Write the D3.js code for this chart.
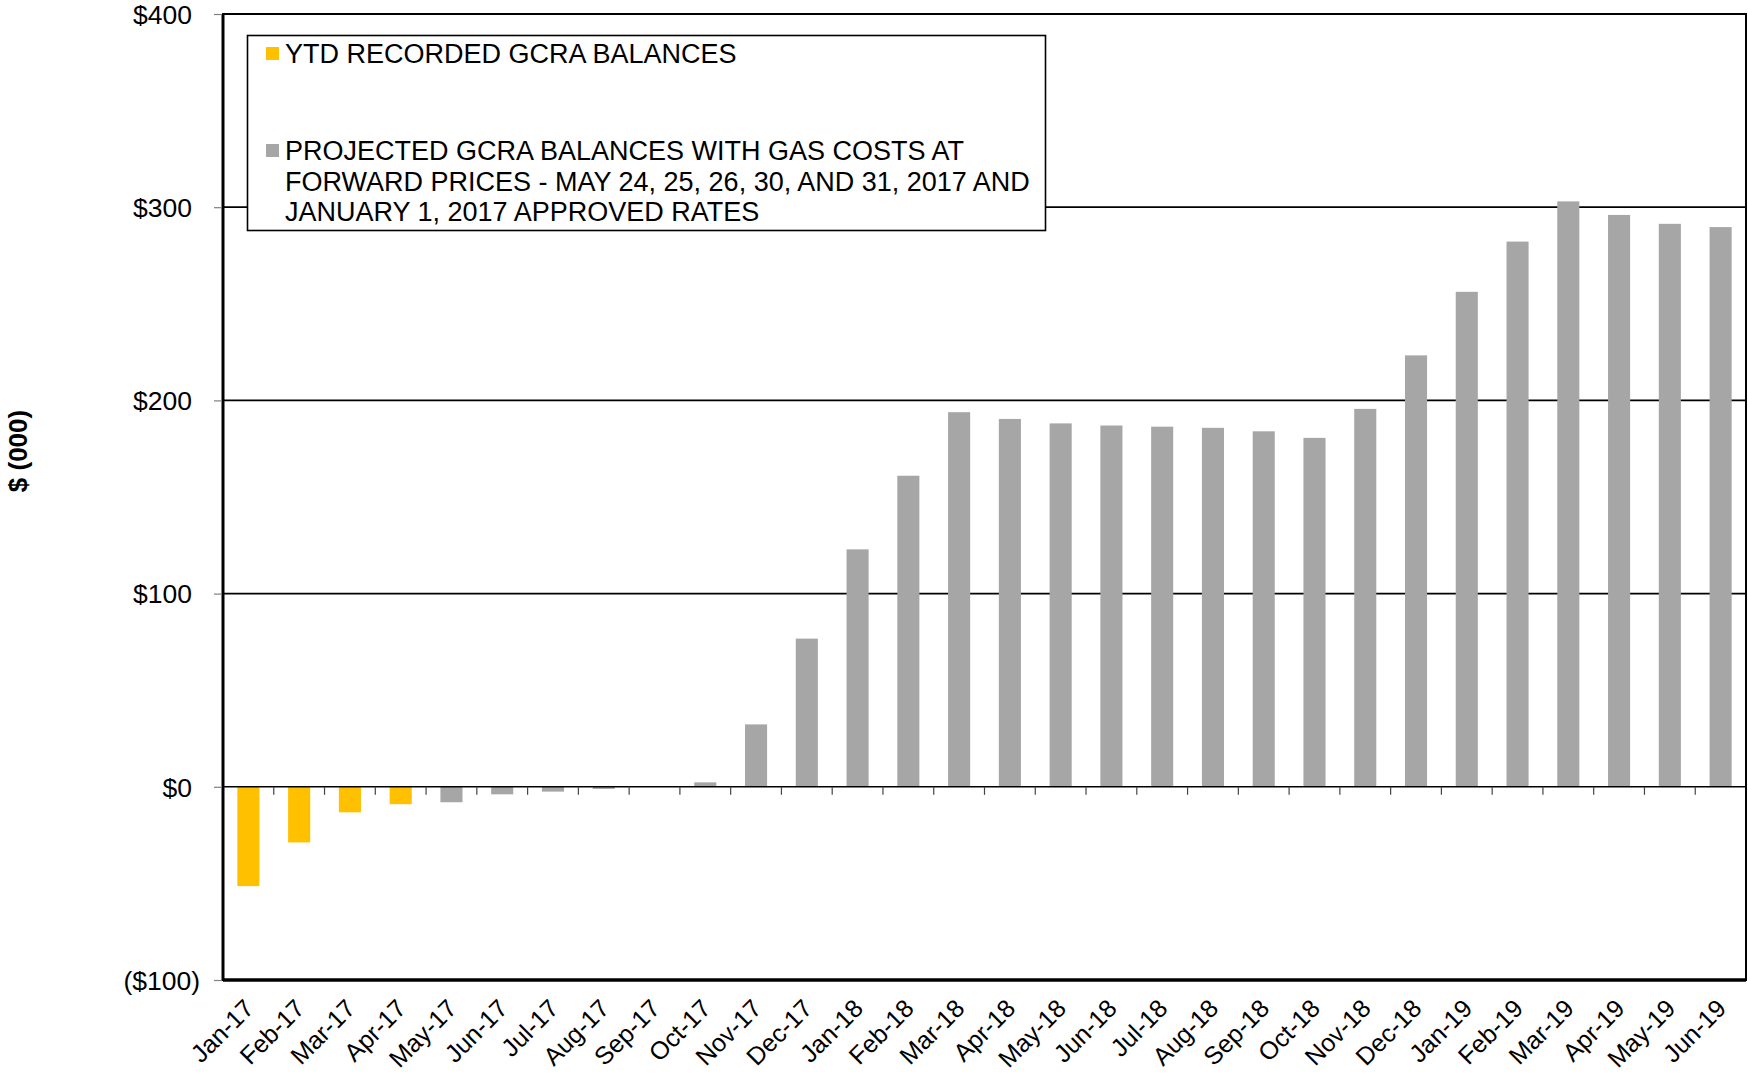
<!DOCTYPE html>
<html>
<head>
<meta charset="utf-8">
<script src="https://cdn.jsdelivr.net/npm/d3@7"></script>
<style>
html,body{margin:0;padding:0;background:#fff;}
svg{display:block;font-family:"Liberation Sans",Arial,sans-serif;}
</style>
</head>
<body>
<svg id="chart" width="1748" height="1077"></svg>
<script>
const categories = ["Jan-17","Feb-17","Mar-17","Apr-17","May-17","Jun-17","Jul-17","Aug-17","Sep-17","Oct-17","Nov-17","Dec-17",
  "Jan-18","Feb-18","Mar-18","Apr-18","May-18","Jun-18","Jul-18","Aug-18","Sep-18","Oct-18","Nov-18","Dec-18",
  "Jan-19","Feb-19","Mar-19","Apr-19","May-19","Jun-19"];
const recorded = [-51.4,-28.8,-13.2,-9.0,null,null,null,null,null,null,null,null,null,null,null,null,null,null,null,null,null,null,null,null,null,null,null,null,null,null];
const projected = [null,null,null,null,-8.0,-3.9,-2.5,-1.1,0.2,2.3,32.3,76.7,122.9,161.0,193.9,190.4,188.1,187.0,186.4,185.8,184.0,180.6,195.6,223.3,256.2,282.2,303.0,296.0,291.4,289.7];
const yTicks = [-100,0,100,200,300,400];
const yTickLabels = ["($100)","$0","$100","$200","$300","$400"];
const legendItems = [
  {name:"YTD RECORDED GCRA BALANCES", color:"#FFC000", lines:["YTD RECORDED GCRA BALANCES"]},
  {name:"PROJECTED", color:"#A6A6A6", lines:["PROJECTED GCRA BALANCES WITH GAS COSTS AT","FORWARD PRICES - MAY 24, 25, 26, 30, AND 31, 2017 AND","JANUARY 1, 2017 APPROVED RATES"]}
];
const yTitle = "$ (000)";

const svg = d3.select("#chart");
const m = {left:223, right:1746, top:14, bottom:980};
const x = d3.scaleBand().domain(categories).range([m.left, m.right]).paddingInner(0.565).paddingOuter(0.2825);
const y = d3.scaleLinear().domain([-100,400]).range([m.bottom, m.top]);

// gridlines
svg.append("g").selectAll("line").data([100,200,300]).join("line")
  .attr("x1", m.left).attr("x2", m.right).attr("y1", d=>y(d)).attr("y2", d=>y(d))
  .attr("stroke","#000").attr("stroke-width",1.8);

// bars
const data = categories.map((c,i)=>({c, r:recorded[i], p:projected[i]}));
svg.append("g").selectAll("rect").data(data.filter(d=>d.r!=null)).join("rect")
  .attr("x", d=>x(d.c)).attr("width", x.bandwidth())
  .attr("y", d=>y(Math.max(0,d.r))).attr("height", d=>Math.abs(y(d.r)-y(0)))
  .attr("fill","#FFC000");
svg.append("g").selectAll("rect").data(data.filter(d=>d.p!=null)).join("rect")
  .attr("x", d=>x(d.c)).attr("width", x.bandwidth())
  .attr("y", d=>y(Math.max(0,d.p))).attr("height", d=>Math.abs(y(d.p)-y(0)))
  .attr("fill","#A6A6A6");

// zero line with category boundary ticks
svg.append("line").attr("x1",m.left).attr("x2",m.right).attr("y1",y(0)).attr("y2",y(0))
  .attr("stroke","#000").attr("stroke-width",1.4);
const step = x.step();
svg.append("g").selectAll("line").data(categories.slice(1)).join("line")
  .attr("x1", d=>x(d)-x.paddingInner()*step/2).attr("x2", d=>x(d)-x.paddingInner()*step/2)
  .attr("y1", y(0)).attr("y2", y(0)+8)
  .attr("stroke","#444").attr("stroke-width",1.2);

// frame
svg.append("rect").attr("x",m.left).attr("y",m.top).attr("width",m.right-m.left).attr("height",m.bottom-m.top)
  .attr("fill","none").attr("stroke","#000").attr("stroke-width",2);
svg.append("line").attr("x1",m.left).attr("x2",m.right).attr("y1",m.bottom).attr("y2",m.bottom).attr("stroke","#000").attr("stroke-width",3.5);
svg.append("line").attr("x1",m.left).attr("x2",m.left).attr("y1",m.top).attr("y2",m.bottom).attr("stroke","#000").attr("stroke-width",3);

// y axis
const yAxis = d3.axisLeft(y).tickValues(yTicks).tickSize(8).tickPadding(22)
  .tickFormat((d,i)=>yTickLabels[i]);
const gy = svg.append("g").attr("transform",`translate(${m.left-1},0)`).call(yAxis);
gy.select(".domain").remove();
gy.selectAll(".tick line").attr("stroke","#808080").attr("stroke-width",1.2);
gy.selectAll(".tick text").attr("font-size",26.5).attr("fill","#000").attr("dy","0.35em")
  .attr("font-family","'Liberation Sans',Arial,sans-serif")
  .attr("dx", d => d < 0 ? 8 : 0);

// x axis labels
const xAxis = d3.axisBottom(x).tickSize(0).tickPadding(0);
const gx = svg.append("g").attr("transform",`translate(0,${m.bottom})`).call(xAxis);
gx.select(".domain").remove();
gx.selectAll(".tick text").attr("font-size",25).attr("fill","#000")
  .attr("font-family","'Liberation Sans',Arial,sans-serif")
  .attr("text-anchor","end").attr("dy",0).attr("y",0)
  .attr("transform","translate(7,30) rotate(-45)");

// y title
svg.append("text").attr("transform","translate(27,451) rotate(-90)")
  .attr("text-anchor","middle").attr("font-weight","bold").attr("font-size",26).text(yTitle);

// legend
const lg = svg.append("g");
lg.append("rect").attr("x",247.5).attr("y",35.5).attr("width",798).attr("height",195)
  .attr("fill","#fff").attr("stroke","#000").attr("stroke-width",1.6);
const legendY = [63, 160];
legendItems.forEach((it,i)=>{
  lg.append("rect").attr("x",266).attr("y",legendY[i]-16).attr("width",13).attr("height",13).attr("fill",it.color);
  it.lines.forEach((ln,j)=>{
    lg.append("text").attr("x",285).attr("y",legendY[i]+j*30.5).attr("font-size",27).attr("fill","#000").text(ln);
  });
});
</script>
</body>
</html>
